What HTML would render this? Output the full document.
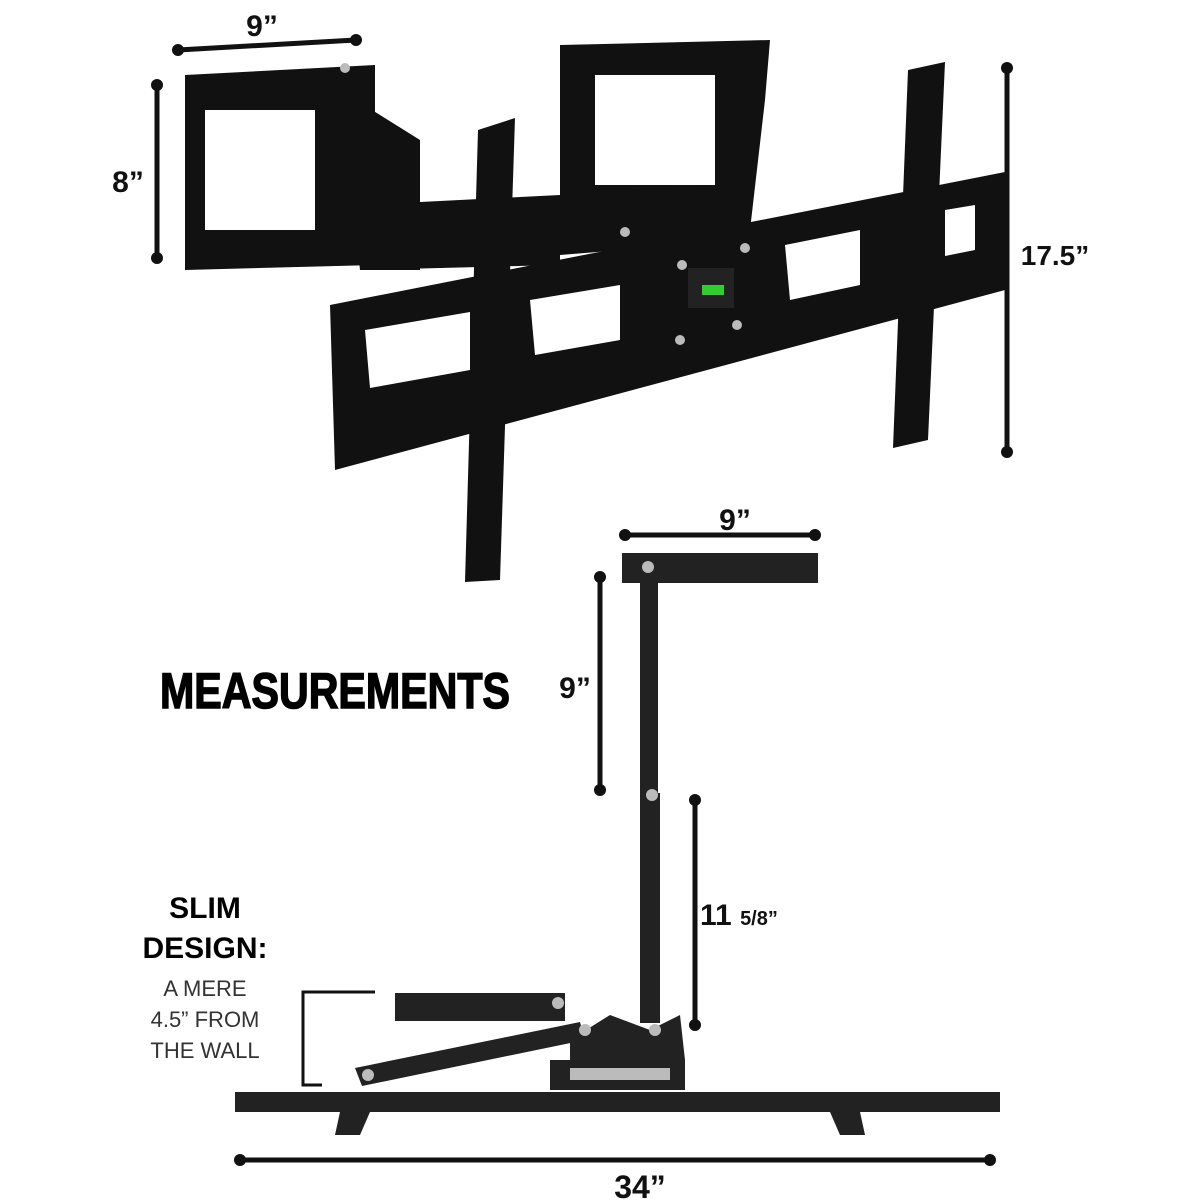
<!DOCTYPE html>
<html><head><meta charset="utf-8"><style>
html,body{margin:0;padding:0;background:#fff}
svg{display:block}
.dim{font-family:"Liberation Sans",sans-serif;font-weight:bold;fill:#111}
</style></head><body>
<svg width="1200" height="1200" viewBox="0 0 1200 1200" xmlns="http://www.w3.org/2000/svg">
<g stroke="#111" stroke-width="5" stroke-linecap="round">
<line x1="178" y1="50" x2="356" y2="40"/>
<line x1="157" y1="85" x2="157" y2="258"/>
<line x1="1007" y1="68" x2="1007" y2="452"/>
<line x1="625" y1="535" x2="815" y2="535"/>
<line x1="600" y1="577" x2="600" y2="790"/>
<line x1="695" y1="800" x2="695" y2="1025"/>
<line x1="240" y1="1160" x2="990" y2="1160"/>
</g>
<g fill="#111">
<circle cx="178" cy="50" r="6"/><circle cx="356" cy="40" r="6"/>
<circle cx="157" cy="85" r="6"/><circle cx="157" cy="258" r="6"/>
<circle cx="1007" cy="68" r="6"/><circle cx="1007" cy="452" r="6"/>
<circle cx="625" cy="535" r="6"/><circle cx="815" cy="535" r="6"/>
<circle cx="600" cy="577" r="6"/><circle cx="600" cy="790" r="6"/>
<circle cx="695" cy="800" r="6"/><circle cx="695" cy="1025" r="6"/>
<circle cx="240" cy="1160" r="6"/><circle cx="990" cy="1160" r="6"/>
</g>
<text class="dim" x="262" y="36" font-size="30" text-anchor="middle">9”</text>
<text class="dim" x="128" y="192" font-size="30" text-anchor="middle">8”</text>
<text class="dim" x="1055" y="265" font-size="28" text-anchor="middle">17.5”</text>
<text class="dim" x="735" y="530" font-size="30" text-anchor="middle">9”</text>
<text class="dim" x="575" y="698" font-size="30" text-anchor="middle">9”</text>
<text class="dim" x="700" y="925" font-size="30">11 <tspan font-size="20">5/8”</tspan></text>
<text class="dim" x="640" y="1198" font-size="32" text-anchor="middle">34”</text>
<text x="335" y="708" font-family="Liberation Sans,sans-serif" font-weight="900" font-size="50" text-anchor="middle" textLength="350" lengthAdjust="spacingAndGlyphs" fill="#000" stroke="#000" stroke-width="1.5">MEASUREMENTS</text>
<text x="205" y="918" font-family="Liberation Sans,sans-serif" font-weight="bold" font-size="30" text-anchor="middle" fill="#000">SLIM</text>
<text x="205" y="958" font-family="Liberation Sans,sans-serif" font-weight="bold" font-size="30" text-anchor="middle" fill="#000">DESIGN:</text>
<g font-family="Liberation Sans,sans-serif" font-size="22" fill="#333" text-anchor="middle">
<text x="205" y="996">A MERE</text><text x="205" y="1027">4.5” FROM</text><text x="205" y="1058">THE WALL</text></g>
<path d="M375 992 H303 V1085 H322" fill="none" stroke="#111" stroke-width="3"/>

<g fill="#111">
<path d="M185 75 L375 65 L375 265 L185 270 Z"/>
<path d="M340 90 L420 140 L420 270 L360 270 Z"/>
<path d="M360 205 L560 195 L560 265 L360 270 Z"/>
<path d="M560 45 L770 40 L765 100 L750 230 L640 235 L560 230 Z"/>
<path d="M560 200 L740 180 L745 240 L560 255 Z"/>
<path d="M330 305 L1005 172 L1005 290 L335 470 Z"/>
<path d="M478 130 L515 118 L500 580 L465 582 Z"/>
<path d="M908 70 L945 62 L928 440 L893 448 Z"/>
</g>
<g fill="#fff">
<rect x="205" y="110" width="110" height="120"/>
<rect x="595" y="75" width="120" height="110"/>
<path d="M365 330 L470 312 L470 370 L370 388 Z"/>
<path d="M530 300 L620 285 L620 340 L535 355 Z"/>
<path d="M785 245 L860 230 L860 285 L790 300 Z"/>
<path d="M945 210 L975 205 L975 250 L945 256 Z"/>
<rect x="688" y="268" width="46" height="40" fill="#222"/>
<rect x="702" y="285" width="22" height="10" fill="#3c3"/>
</g>
<g fill="#bbb"><circle cx="682" cy="265" r="5"/><circle cx="745" cy="248" r="5"/><circle cx="680" cy="340" r="5"/><circle cx="737" cy="325" r="5"/><circle cx="625" cy="232" r="5"/><circle cx="345" cy="68" r="5"/></g>

<g fill="#222">
<rect x="622" y="553" width="196" height="30"/>
<rect x="640" y="583" width="18" height="210"/>
<rect x="640" y="793" width="20" height="230"/>
<rect x="395" y="993" width="170" height="28"/>
<path d="M355 1068 L580 1022 L585 1040 L362 1086 Z"/>
<path d="M570 1040 L610 1015 L650 1030 L680 1015 L685 1060 L570 1060 Z"/>
<rect x="550" y="1060" width="135" height="30"/>
<rect x="235" y="1092" width="765" height="20"/>
<path d="M340 1112 L370 1112 L360 1135 L335 1135 Z"/>
<path d="M830 1112 L860 1112 L865 1135 L840 1135 Z"/>
</g>
<g fill="#bbb"><circle cx="648" cy="567" r="6"/><circle cx="652" cy="795" r="6"/><circle cx="558" cy="1003" r="6"/><circle cx="368" cy="1075" r="6"/><circle cx="585" cy="1030" r="6"/><circle cx="655" cy="1030" r="6"/><rect x="570" y="1068" width="100" height="12"/></g>
</svg>
</body></html>
